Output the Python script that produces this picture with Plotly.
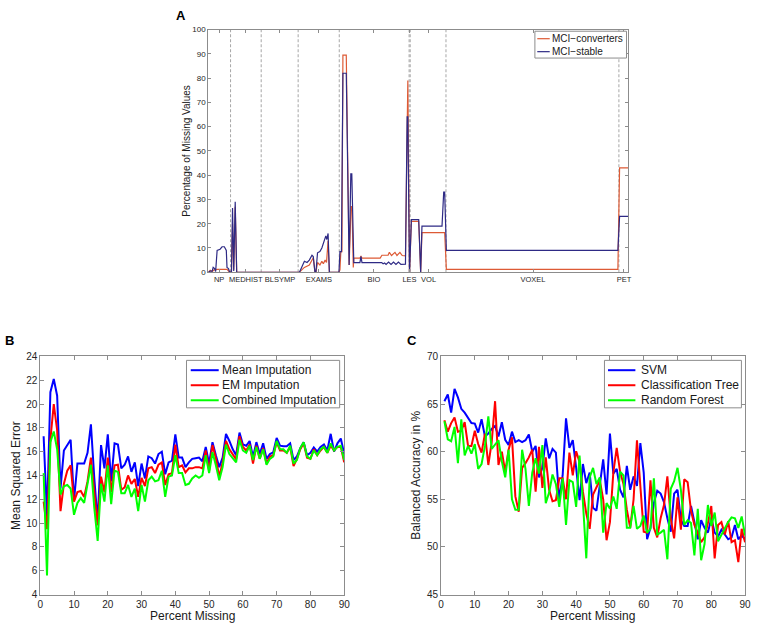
import plotly.graph_objects as go

W, H = 757, 629
FONT = "Liberation Sans, Arial, Helvetica, sans-serif"

# ---------------- Panel A data (feature position along axis, % missing) ----------------
a_groups = ["NP", "MEDHIST", "BLSYMP", "EXAMS", "BIO", "LES", "VOL", "VOXEL", "PET"]
a_group_centers = [11, 38, 72.6, 112, 167.7, 203.7, 223, 328.7, 420.7]
a_boundaries = [22.6, 53.6, 91, 132.6, 203.3, 204.4, 240.6, 415.6]
a_xmax = 425.3

stable_x = [0, 2, 4, 5, 6.5, 7.5, 9, 12, 14, 16.3, 18.3, 19, 20.5, 21.5, 23.5, 24.6, 25.8, 27.3, 28.8,
            92.3, 94.5, 97.3, 100, 102.3, 105, 106.3, 108, 109, 110.6, 113, 115, 117.3, 119, 120, 121.3, 122.6,
            132.3, 133.3, 134.8, 136.3, 139.7, 142.6, 144.3, 145.3, 147.3, 153.5, 154.6, 155.6, 175.5,
            177, 178.5, 180, 182.5, 185, 187.5, 190, 192.5, 195, 199.6, 201.3, 202, 203.7, 205.6, 213,
            215, 216.3, 236.6, 238.3, 239.3, 241, 414.6, 416.3, 425.3]
stable_y = [0, 0.5, 0.5, 2, 1.5, 0.3, 9, 9.5, 10.5, 10.5, 9, 2, 1.5, 0.2, 0, 26.5, 0.5, 29, 0,
            0, 2, 4.5, 4, 5, 7, 6.5, 0, 0, 8, 8.5, 10, 13, 15, 13.5, 16, 0,
            0, 8.5, 8.5, 82, 82, 3, 40.5, 40.5, 4, 4, 6.5, 4, 4,
            3.5, 3.8, 3.2, 4.2, 3.2, 4.2, 3.2, 4.2, 3.2, 3.3, 64, 64, 0, 21.7, 21.7,
            0, 19, 19, 33, 33, 9, 9, 23, 23]

conv_x = [0, 2, 4, 6, 9, 19, 21, 23.5, 24.6, 25.8, 27.3, 28.8,
          92.3, 97.3, 102.3, 105, 106.3, 108, 109, 110.6, 113, 115, 116.5, 118.3, 119.7, 121.3, 122.6,
          132.3, 133.3, 134.2, 135.3, 136.3, 139.7, 142.6, 144.5, 145.5, 146.8, 147.3, 153.5, 154.6, 155.6,
          174, 175.8, 182, 183.3, 185.5, 189, 191, 194, 196.3, 199.6, 201.3, 202, 203.7, 205.6, 213,
          215, 216.3, 239.3, 241, 414.6, 416.3, 425.3]
conv_y = [0, 0.8, 0.3, 1, 1.2, 1.2, 0.3, 0, 20, 1, 27, 0,
          0, 2, 3, 5.5, 6, 0, 0, 4, 3, 4.5, 3.5, 5, 4, 13, 0,
          0, 1, 8.5, 8.5, 89.5, 89.5, 3, 27, 27, 2, 5.8, 5.8, 6.5, 5.8,
          5.8, 7, 7, 8.2, 6.9, 8.2, 6.9, 8.2, 6.9, 6.8, 79, 79, 0, 21, 21,
          0, 16.3, 16.3, 1.2, 1.2, 43, 43]

# ---------------- Panel B data (Mean Squared Error vs percent missing) ----------------
pct = list(range(1, 91))
mse_mean = [17.3, 10.6, 21.0, 22.1, 20.7, 12.9, 16.1, 16.5, 17.0, 11.9,
            15.0, 15.0, 15.0, 15.9, 18.3, 13.8, 10.1, 16.55, 14.6, 17.45,
            13.5, 16.7, 16.6, 14.6, 14.9, 15.6, 14.3, 15.1, 13.1, 15.0,
            13.75, 15.6, 15.45, 15.0, 15.8, 16.0, 14.1, 15.1, 15.25, 17.45,
            15.5, 15.5, 14.7, 15.1, 15.4, 15.45, 15.5, 15.2, 16.4, 15.0,
            16.8, 15.7, 14.7, 15.5, 17.5, 16.9, 16.2, 15.7, 17.6, 16.6,
            16.5, 16.9, 15.55, 16.8, 15.8, 16.7, 15.4, 15.8, 15.95, 17.15,
            16.5, 16.45, 16.45, 16.7, 15.3, 15.6, 16.3, 16.8, 15.7, 15.9,
            16.35, 16.0, 16.4, 16.6, 16.1, 17.5, 16.0, 16.7, 17.1, 15.8]
mse_em = [11.8, 9.5, 17.0, 20.0, 17.8, 11.0, 13.3, 14.4, 14.85, 11.8,
          12.6, 12.7, 12.2, 13.5, 15.5, 12.8, 9.8, 13.9, 12.6, 15.5,
          12.6, 14.85, 14.9, 12.8, 13.0, 14.0, 13.3, 13.7, 12.2, 13.8,
          13.1, 14.6, 14.7, 14.2, 14.9, 15.1, 13.2, 14.1, 14.2, 16.6,
          14.7, 14.85, 14.25, 14.6, 14.6, 14.7, 14.7, 14.6, 16.1, 14.4,
          16.55, 15.45, 13.9, 15.1, 16.9, 16.2, 15.8, 15.35, 17.3, 16.4,
          16.1, 16.6, 15.0, 16.5, 15.4, 16.3, 15.0, 15.6, 15.7, 16.8,
          16.1, 16.1, 15.9, 16.4, 14.8, 15.4, 16.2, 16.7, 15.5, 15.4,
          16.2, 15.7, 16.1, 16.4, 15.9, 16.5, 16.1, 16.4, 16.4, 15.1]
mse_comb = [14.2, 5.6, 16.8, 17.7, 16.2, 12.4, 13.1, 13.2, 12.9, 10.7,
            11.7, 12.1, 11.7, 13.2, 14.9, 11.3, 8.5, 13.3, 11.8, 14.85,
            11.6, 14.4, 14.3, 12.5, 12.5, 13.2, 12.2, 12.9, 11.0, 13.2,
            11.8, 13.6, 13.9, 13.5, 13.6, 14.4, 12.2, 13.9, 14.0, 15.7,
            14.2, 14.2, 13.2, 13.3, 13.75, 14.0, 13.8, 14.0, 15.7, 14.2,
            15.95, 14.85, 13.6, 14.7, 16.6, 15.8, 15.45, 15.1, 17.0, 16.1,
            15.9, 16.5, 15.3, 16.4, 15.4, 16.2, 14.9, 15.4, 15.6, 16.9,
            16.2, 16.2, 15.9, 16.5, 15.0, 15.3, 16.3, 16.8, 15.6, 15.4,
            16.1, 15.7, 16.2, 16.4, 15.9, 16.7, 16.1, 16.4, 16.5, 15.3]

# ---------------- Panel C data (Balanced accuracy vs percent missing) ----------------
acc_svm = [65.3, 66.0, 64.1, 66.6, 65.7, 64.5, 64.1, 63.6, 63.0, 62.95,
           62.0, 63.4, 61.6, 61.9, 62.4, 62.7, 61.6, 63.1, 61.25, 60.7,
           62.1, 61.0, 61.2, 61.0, 61.2, 61.8, 60.0, 60.6, 57.3, 58.3,
           61.4, 59.3, 60.3, 59.9, 54.9, 57.5, 63.5, 60.4, 61.2, 58.3,
           54.9, 58.7, 56.7, 57.8, 54.1, 53.8, 56.7, 59.2, 55.5, 61.9,
           57.7, 58.2, 56.0, 55.2, 58.5, 56.0, 57.4, 56.4, 60.9, 57.8,
           50.8, 52.0, 54.6, 55.9, 55.6, 54.7, 53.0, 51.6, 55.6, 56.0,
           52.8, 52.2, 52.2, 54.3, 52.6, 50.8, 52.8, 52.0, 51.5, 53.0,
           51.5, 51.1, 51.8, 51.3, 50.8, 51.0, 52.3, 50.8, 51.2, 50.8]
acc_tree = [63.3, 62.1, 63.0, 63.6, 62.1, 62.2, 63.1, 60.6, 60.6, 62.2,
            60.8, 59.9, 61.9, 58.6, 61.0, 65.3, 58.6, 60.0, 57.9, 60.2,
            61.5, 55.3, 53.7, 58.3, 58.8, 59.4, 60.2, 55.8, 60.5, 56.2,
            59.4, 56.0, 54.8, 54.9, 57.2, 57.2, 55.0, 59.9, 57.5, 60.05,
            58.9, 55.8, 53.5, 51.9, 55.5, 56.2, 57.0, 55.0, 50.7, 52.6,
            57.8, 60.4, 57.9, 56.6, 53.9, 52.0, 55.0, 61.2, 55.8, 51.6,
            51.5, 57.0, 52.0, 51.0, 53.0, 54.4, 57.4, 53.0, 50.9, 55.2,
            51.8, 57.1, 56.8, 53.8, 52.3, 51.5, 50.5, 51.0, 52.5, 54.3,
            48.8, 52.3, 52.6, 51.3, 52.7, 50.5, 50.7, 48.4, 51.9, 50.5]
acc_forest = [63.2, 61.3, 61.1, 62.6, 58.8, 63.4, 59.6, 60.6, 59.8, 60.8,
              58.2, 58.7, 60.6, 63.7, 60.3, 60.8, 61.2, 59.0, 57.3, 60.2,
              55.0, 53.9, 53.9, 60.2, 58.2, 54.3, 57.8, 59.3, 57.7, 60.7,
              54.6, 55.7, 57.6, 56.6, 54.2, 57.2, 52.3, 57.0, 56.8, 54.2,
              59.6, 54.7, 48.8, 57.3, 58.3, 56.6, 57.3, 51.5, 54.6, 54.0,
              55.3, 54.0, 57.9, 57.5, 52.0, 52.0, 54.3, 51.9, 52.2, 53.3,
              51.5, 51.9, 57.2, 51.3, 51.5, 51.8, 48.7, 56.1, 56.9, 58.3,
              56.0, 52.3, 52.8, 52.5, 49.1, 54.0, 48.6, 50.3, 54.4, 52.2,
              53.6, 50.6, 51.3, 52.0, 52.6, 53.1, 53.0, 52.0, 53.2, 51.2]

a_series = [("MCI−converters", conv_x, conv_y, "#dd5a35"),
            ("MCI−stable", stable_x, stable_y, "#2e2a85")]
b_series = [("Mean Imputation", mse_mean, "#0000ff"),
            ("EM Imputation", mse_em, "#ff0000"),
            ("Combined Imputation", mse_comb, "#00ff00")]
c_series = [("SVM", acc_svm, "#0000ff"),
            ("Classification Tree", acc_tree, "#ff0000"),
            ("Random Forest", acc_forest, "#00ff00")]


def fx(p):
    return p / W


def fy(p):
    return 1 - p / H


fig = go.Figure()

for name, xs, ys, col in a_series:
    fig.add_trace(go.Scatter(x=xs, y=ys, mode="lines", name=name, showlegend=False,
                             line=dict(color=col, width=1.2), xaxis="x", yaxis="y"))
for name, vals, col in b_series:
    fig.add_trace(go.Scatter(x=pct, y=vals, mode="lines", name=name, showlegend=False,
                             line=dict(color=col, width=2), xaxis="x2", yaxis="y2"))
for name, vals, col in c_series:
    fig.add_trace(go.Scatter(x=pct, y=vals, mode="lines", name=name, showlegend=False,
                             line=dict(color=col, width=2), xaxis="x3", yaxis="y3"))

GRAY = "#8c8c8c"


def axis(size, **kw):
    d = dict(showline=True, mirror="ticks", linecolor=GRAY, linewidth=1,
             ticks="inside", tickcolor=GRAY, showgrid=False, zeroline=False,
             tickfont=dict(family=FONT, size=size, color="#262626"))
    d.update(kw)
    return d


fig.update_layout(
    width=W, height=H, margin=dict(l=0, r=0, t=0, b=0),
    paper_bgcolor="white", plot_bgcolor="white",
    font=dict(family=FONT, color="#1a1a1a"), showlegend=False,
    xaxis=axis(7.5, domain=[fx(207.7), fx(633)], range=[0, a_xmax], tickvals=a_group_centers,
               ticktext=a_groups, ticklen=3, tickangle=0),
    yaxis=axis(8, domain=[fy(272), fy(25)], range=[0, 100], tickvals=list(range(0, 101, 10)), ticklen=3),
    xaxis2=axis(10, domain=[fx(37.7), fx(345.3)], range=[0, 90], tickvals=list(range(0, 91, 10)),
                ticklen=4, anchor="y2", tickangle=0),
    yaxis2=axis(10, domain=[fy(600), fy(357.7)], range=[4, 24], tickvals=list(range(4, 25, 2)),
                ticklen=4, anchor="x2"),
    xaxis3=axis(10, domain=[fx(443.3), fx(751)], range=[0, 90], tickvals=list(range(0, 91, 10)),
                ticklen=4, anchor="y3", tickangle=0),
    yaxis3=axis(10, domain=[fy(600), fy(357.7)], range=[45, 70], tickvals=list(range(45, 71, 5)),
                ticklen=4, anchor="x3"),
)

# dashed group boundaries in panel A
for b in a_boundaries:
    fig.add_shape(type="line", xref="x", yref="y", x0=b, x1=b, y0=0, y1=100,
                  line=dict(color="#a6a6a6", width=1, dash="3px,2px"), layer="below")

ann = []


def legend_box(entries, box, line_x, text_x, rows, size, lw):
    x0, y0, x1, y1 = box
    fig.add_shape(type="rect", xref="paper", yref="paper", x0=fx(x0), x1=fx(x1), y0=fy(y1), y1=fy(y0),
                  line=dict(color=GRAY, width=1), fillcolor="white", layer="above")
    for (name, col), ry in zip(entries, rows):
        fig.add_shape(type="line", xref="paper", yref="paper", x0=fx(line_x[0]), x1=fx(line_x[1]),
                      y0=fy(ry), y1=fy(ry), line=dict(color=col, width=lw), layer="above")
        ann.append(dict(text=name, x=fx(text_x), y=fy(ry), xanchor="left", yanchor="middle",
                        font=dict(size=size)))


legend_box([(s[0], s[3]) for s in a_series], (538.3, 26.7, 631, 54), (540.7, 553.3), 553.5,
           [34.3, 47.5], 10, 1.2)
legend_box([(s[0], s[2]) for s in b_series], (185.7, 361.7, 340.7, 410), (190, 218.3), 220,
           [371.7, 387, 402.3], 12, 2)
legend_box([(s[0], s[2]) for s in c_series], (608.7, 361.7, 747.3, 410), (612.3, 640), 643.5,
           [371.7, 387, 402.3], 12, 2)

# panel letters
ann.append(dict(text="<b>A</b>", x=fx(173), y=fy(1), xanchor="left", yanchor="top", font=dict(size=13, color="black")))
ann.append(dict(text="<b>B</b>", x=fx(0), y=fy(332), xanchor="left", yanchor="top", font=dict(size=13, color="black")))
ann.append(dict(text="<b>C</b>", x=fx(407), y=fy(332), xanchor="left", yanchor="top", font=dict(size=13, color="black")))
# axis titles
ann.append(dict(text="Percentage of Missing Values", x=fx(186), y=fy(148.5), textangle=-90,
                xanchor="center", yanchor="middle", font=dict(size=10)))
ann.append(dict(text="Mean Squared Error", x=fx(12.5), y=fy(479), textangle=-90,
                xanchor="center", yanchor="middle", font=dict(size=12)))
ann.append(dict(text="Balanced Accuracy in %", x=fx(418), y=fy(479), textangle=-90,
                xanchor="center", yanchor="middle", font=dict(size=12)))
ann.append(dict(text="Percent Missing", x=fx(191.5), y=fy(621.5), xanchor="center", yanchor="middle",
                font=dict(size=12)))
ann.append(dict(text="Percent Missing", x=fx(597), y=fy(621.5), xanchor="center", yanchor="middle",
                font=dict(size=12)))
for a in ann:
    a.update(xref="paper", yref="paper", showarrow=False)
    a["font"] = {**dict(family=FONT, color="#1a1a1a"), **a["font"]}
fig.update_layout(annotations=ann)

fig.write_html("out.html", config={"displayModeBar": False},
               post_script="document.body.style.margin='0';document.body.style.overflow='hidden';")
